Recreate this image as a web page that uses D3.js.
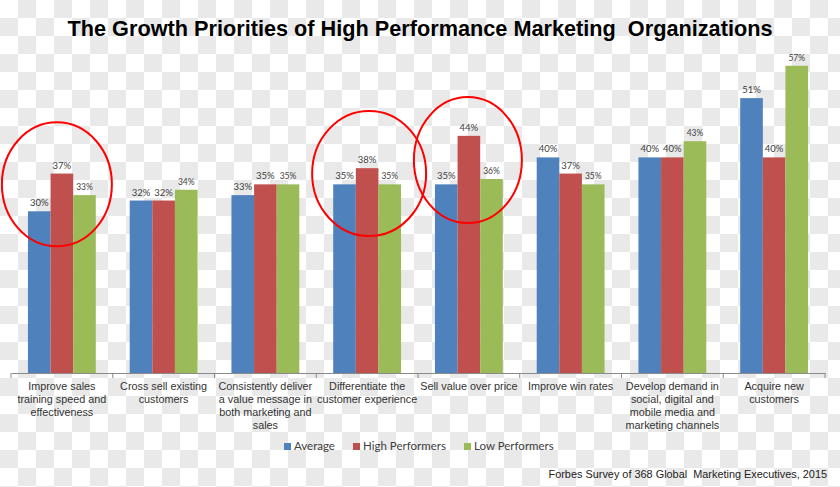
<!DOCTYPE html>
<html>
<head>
<meta charset="utf-8">
<script src="https://cdn.jsdelivr.net/npm/d3@7/dist/d3.min.js"></script>
<style>
  html, body { margin: 0; padding: 0; background: #fff; }
  svg { display: block; }
</style>
</head>
<body>
<svg id="chart" width="840" height="487"></svg>
<script>
// ---- Data ----
const categories = [
  "Improve sales training speed and effectiveness",
  "Cross sell existing customers",
  "Consistently deliver a value message in both marketing and sales",
  "Differentiate the customer experience",
  "Sell value over price",
  "Improve win rates",
  "Develop demand in social, digital and mobile media and marketing channels",
  "Acquire new customers"
];
const categoryLines = [
  ["Improve sales", "training speed and", "effectiveness"],
  ["Cross sell existing", "customers"],
  ["Consistently deliver", "a value message in", "both marketing and", "sales"],
  ["Differentiate the", "customer experience"],
  ["Sell value over price"],
  ["Improve win rates"],
  ["Develop demand in", "social, digital and", "mobile media and", "marketing channels"],
  ["Acquire new", "customers"]
];
const seriesNames = ["Average", "High Performers", "Low Performers"];
const average        = [30, 32, 33, 35, 35, 40, 40, 51];
const highPerformers = [37, 32, 35, 38, 44, 37, 40, 40];
const lowPerformers  = [33, 34, 35, 35, 36, 35, 43, 57];
const yTicks = [0, 10, 20, 30, 40, 50, 60];
// highlighted categories (red ellipses): category index, centre value
const highlights = [
  { cat: 0, value: 35 },
  { cat: 3, value: 37 },
  { cat: 4, value: 39.5 }
];
const titleText = "The Growth Priorities of High Performance Marketing\u00a0 Organizations";
const sourceText = "Forbes Survey of 368 Global\u00a0 Marketing Executives, 2015";

// ---- Styles ----
const colors = ["#4f81bd", "#c0504d", "#9bbb59"];
const W = 840, H = 487;
const svg = d3.select("#chart");

// checkerboard background (transparent-image look)
const defs = svg.append("defs");
const pat = defs.append("pattern").attr("id", "checker")
  .attr("width", 36).attr("height", 36).attr("patternUnits", "userSpaceOnUse");
pat.append("rect").attr("width", 36).attr("height", 36).attr("fill", "#ffffff");
pat.append("rect").attr("x", 18).attr("y", 0).attr("width", 18).attr("height", 18).attr("fill", "#e9e9e9");
pat.append("rect").attr("x", 0).attr("y", 18).attr("width", 18).attr("height", 18).attr("fill", "#e9e9e9");
svg.append("rect").attr("width", W).attr("height", H).attr("fill", "url(#checker)");

// ---- Scales ----
const plotLeft = 11, plotRight = 825, baseY = 373, topY = 49.6;
const x0 = d3.scaleBand().domain(categories).range([plotLeft, plotRight]).padding(0);
const bw = x0.bandwidth();
const x1 = d3.scaleBand().domain(seriesNames).range([bw / 6, bw * 5 / 6]).padding(0);
const y = d3.scaleLinear().domain([yTicks[0], yTicks[yTicks.length - 1]]).range([baseY, topY]);

const seriesData = [average, highPerformers, lowPerformers];

// ---- Bars ----
const groups = svg.append("g").selectAll("g").data(categories).join("g")
  .attr("transform", d => `translate(${x0(d)},0)`);

groups.each(function (cat, ci) {
  const g = d3.select(this);
  seriesNames.forEach((s, si) => {
    const v = seriesData[si][ci];
    g.append("rect")
      .attr("x", x1(s))
      .attr("y", y(v))
      .attr("width", x1.bandwidth())
      .attr("height", y(0) - y(v))
      .attr("fill", colors[si]);
    g.append("text")
      .attr("x", x1(s) + x1.bandwidth() / 2)
      .attr("y", y(v) - 5)
      .attr("text-anchor", "middle")
      .attr("font-family", "Lato, 'Open Sans', sans-serif")
      .attr("font-size", si === 2 ? 8.5 : 9.5)
      .attr("fill", "#404040")
      .text(v + "%");
  });
});

// ---- X axis ----
const axis = d3.axisBottom(x0).tickSize(0).tickFormat("");
const axG = svg.append("g").attr("transform", `translate(0,${baseY})`).call(axis);
axG.select(".domain").attr("stroke", "#8a8a8a").attr("stroke-width", 1.2);
const bounds = categories.map(c => x0(c)).concat([x0.range()[1]]);
axG.selectAll("line.bound").data(bounds).join("line")
  .attr("class", "bound")
  .attr("x1", d => d).attr("x2", d => d)
  .attr("y1", 0).attr("y2", 5)
  .attr("stroke", "#8a8a8a").attr("stroke-width", 1);

// category labels
const labG = svg.append("g");
categories.forEach((c, i) => {
  const t = labG.append("text")
    .attr("x", x0(c) + bw / 2)
    .attr("y", baseY + 17)
    .attr("text-anchor", "middle")
    .attr("font-family", "'Liberation Sans', Arial, sans-serif")
    .attr("font-size", 10.8)
    .attr("fill", "#333333");
  categoryLines[i].forEach((ln, li) => {
    t.append("tspan").attr("x", x0(c) + bw / 2).attr("dy", li === 0 ? 0 : 13).text(ln);
  });
});

// ---- Highlight ellipses ----
svg.append("g").selectAll("ellipse").data(highlights).join("ellipse")
  .attr("cx", (d, i) => x0(categories[d.cat]) + bw / 2 + [-5, 2, -1][i])
  .attr("cy", d => y(d.value))
  .attr("rx", (d, i) => [55, 57, 54][i])
  .attr("ry", (d, i) => [62, 62.5, 63][i])
  .attr("fill", "none")
  .attr("stroke", "#ff0000")
  .attr("stroke-width", 2);

// ---- Title ----
svg.append("text")
  .attr("x", 420).attr("y", 36)
  .attr("text-anchor", "middle")
  .attr("font-family", "'Liberation Sans', Arial, sans-serif")
  .attr("font-weight", "bold")
  .attr("font-size", 21.7)
  .attr("fill", "#000")
  .text(titleText);

// ---- Legend ----
const legendX = [284, 353, 464];
const leg = svg.append("g");
seriesNames.forEach((s, i) => {
  leg.append("rect").attr("x", legendX[i]).attr("y", 443).attr("width", 7).attr("height", 7).attr("fill", colors[i]);
  leg.append("text").attr("x", legendX[i] + 10).attr("y", 450)
    .attr("font-family", "Lato, 'Open Sans', sans-serif")
    .attr("font-size", 11.5)
    .attr("fill", "#404040")
    .text(s);
});

// ---- Source ----
svg.append("text")
  .attr("x", 827).attr("y", 478)
  .attr("text-anchor", "end")
  .attr("font-family", "'Liberation Sans', Arial, sans-serif")
  .attr("font-size", 10.9)
  .attr("fill", "#222")
  .text(sourceText);
</script>
</body>
</html>
